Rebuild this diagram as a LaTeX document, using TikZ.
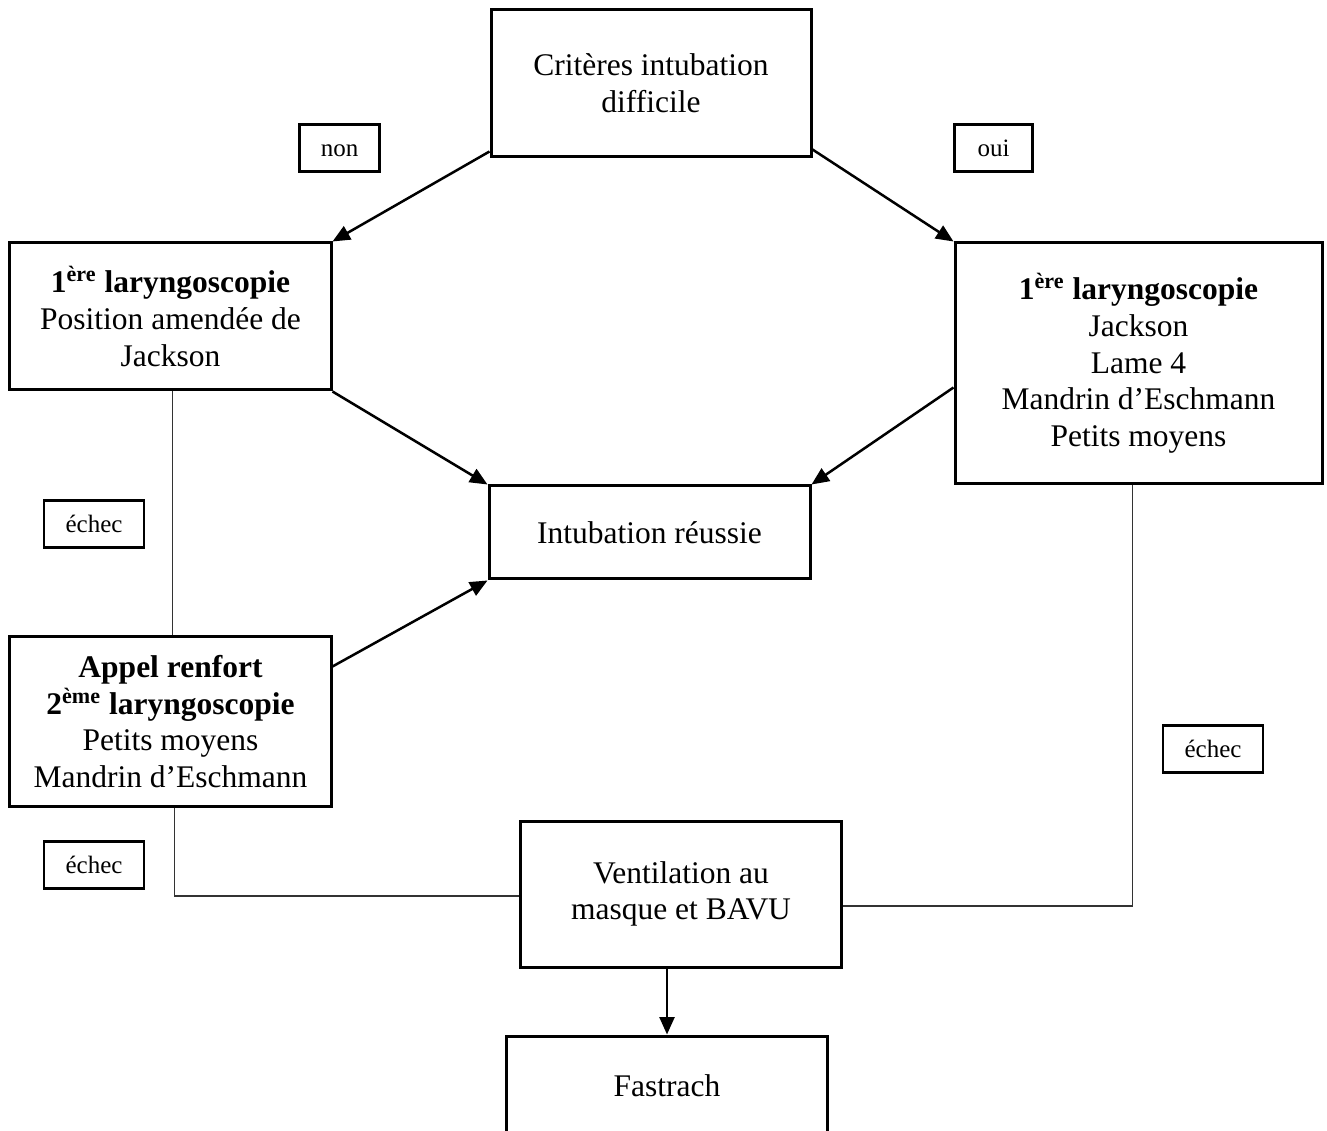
\documentclass[tikz,border=0pt]{standalone}
\usepackage{fontspec}
\setmainfont{Liberation Serif}
\usepackage{tikz}
\usetikzlibrary{positioning}
\usetikzlibrary{arrows.meta}
\usetikzlibrary{calc}

\tikzset{
	boite/.style={rectangle, draw=black, line width=1.2pt, align=center, inner sep=2pt, font=\fontsize{12.6}{14.7}\selectfont},
	etiq/.style={rectangle, draw=black, line width=1.1pt, minimum width=40pt, minimum height=19pt, inner sep=1pt, text height=8pt, text depth=1.5pt, font=\fontsize{10}{12}\selectfont},
	fleche/.style={line width=1pt, -{Triangle[length=7pt,width=6pt]}},
	trait/.style={line width=0.45pt, draw=black!80}
}

\begin{document}
\begin{tikzpicture}[x=0.4pt,y=-0.4pt]
	\useasboundingbox (0,0) rectangle (1327,1131);
	\clip (0,0) rectangle (1327,1131);

	\node[boite, minimum width=128pt, minimum height=58.8pt] (crit) at (651,83.5) {Critères intubation\\difficile};
	\node[boite, minimum width=128.4pt, minimum height=58.8pt] (lary1) at (170.5,316.5) {\textbf{1\textsuperscript{ère} laryngoscopie}\\Position amendée de\\Jackson};
	\node[boite, minimum width=146.8pt, minimum height=96.4pt] (lary2) at (1138.5,363.5) {\textbf{1\textsuperscript{ère} laryngoscopie}\\Jackson\\Lame 4\\Mandrin d’Eschmann\\Petits moyens};
	\node[boite, minimum width=128.4pt, minimum height=37.2pt] (reussie) at (649.5,532.5) {Intubation réussie};
	\node[boite, minimum width=128.4pt, minimum height=67.6pt] (appel) at (170.5,721.5) {\textbf{Appel renfort}\\\textbf{2\textsuperscript{ème} laryngoscopie}\\Petits moyens\\Mandrin d’Eschmann};
	\node[boite, minimum width=128.4pt, minimum height=58.4pt] (ventil) at (681,894) {Ventilation au\\masque et BAVU};
	\node[boite, minimum width=128.4pt, minimum height=39.6pt] (fastrach) at (667,1085.5) {Fastrach};

	\node[etiq, minimum width=32pt] (non) at (339.5,148) {non};
	\node[etiq, minimum width=31pt] (oui) at (993.5,148) {oui};
	\node[etiq] (echec1) at (94,524) {échec};
	\node[etiq] (echec2) at (94,865) {échec};
	\node[etiq] (echec3) at (1213,749) {échec};

	\draw[fleche] ($(crit.south west)+(0,-7)$) -- (lary1.north east);
	\draw[fleche] ($(crit.south east)+(0,-9)$) -- (lary2.north west);
	\draw[fleche] (lary1.south east) -- (reussie.north west);
	\draw[fleche] ($(lary2.west)+(0,24)$) -- (reussie.north east);
	\draw[fleche] ($(appel.north east)+(0,31)$) -- (reussie.south west);
	\draw[fleche] (ventil.south -| fastrach.north) -- (fastrach.north);

	\draw[trait] ($(lary1.south)+(2,0)$) -- ($(appel.north)+(2,0)$);
	\draw[trait] ($(appel.south)+(4,0)$) |- ($(ventil.west)+(0,2)$);
	\draw[trait] ($(lary2.south)+(-6,0)$) |- ($(ventil.east)+(0,12)$);
\end{tikzpicture}
\end{document}
